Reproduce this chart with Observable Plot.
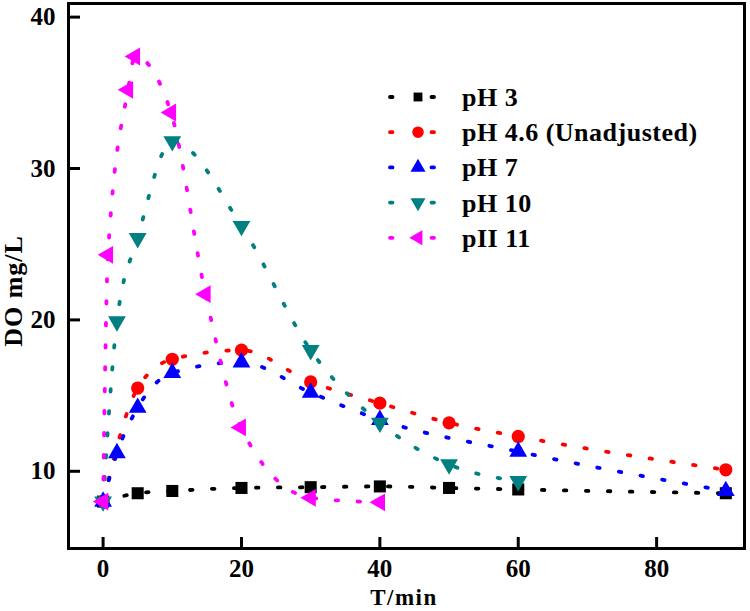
<!DOCTYPE html>
<html><head><meta charset="utf-8">
<script src="https://cdn.jsdelivr.net/npm/d3@7"></script>
<script src="https://cdn.jsdelivr.net/npm/@observablehq/plot@0.6"></script>
<style>body{margin:0;background:#fff} svg{display:block}</style>
</head><body><div id="chart"></div>
<script>
// ---- data ----
const seriesNames = ["pH 3", "pH 4.6 (Unadjusted)", "pH 7", "pH 10", "pII 11"];
const seriesColors = ["#000000", "#ff0000", "#0000ff", "#008080", "#ff00ff"];

const timesPH3 = [0, 5, 10, 20, 30, 40, 50, 60, 90];
const doPH3    = [8.0, 8.55, 8.7, 8.9, 8.95, 9.0, 8.9, 8.8, 8.55];

const timesPH46 = [0, 5, 10, 20, 30, 40, 50, 60, 90];
const doPH46    = [8.0, 15.5, 17.4, 18.0, 15.9, 14.5, 13.2, 12.3, 10.1];

const timesPH7 = [0, 2, 5, 10, 20, 30, 40, 60, 90];
const doPH7    = [8.0, 11.2, 14.2, 16.5, 17.2, 15.2, 13.4, 11.3, 8.7];

const timesPH10 = [0, 2, 5, 10, 20, 30, 40, 50, 60];
const doPH10    = [8.0, 19.9, 25.4, 31.8, 26.2, 18.0, 13.2, 10.45, 9.35];

const timesPH11 = [0, 0.7, 3.6, 4.6, 9.8, 14.8, 19.9, 30, 40];
const doPH11    = [8.0, 24.3, 35.2, 37.4, 33.7, 21.7, 12.9, 8.25, 7.95];

const xTicks = [0, 20, 40, 60, 80];
const yTicks = [10, 20, 30, 40];
const xLabel = "T/min";
const yLabel = "DO mg/L";

// ---- symbols ----
const sq3 = Math.sqrt(3);
const triDown = {draw(c, size) { const h = Math.sqrt(size / (sq3 * 3)); c.moveTo(0, 2*h); c.lineTo(sq3*h, -h); c.lineTo(-sq3*h, -h); c.closePath(); }};
const triLeft = {draw(c, size) { const h = Math.sqrt(size / (sq3 * 3)); c.moveTo(-2*h, 0); c.lineTo(h, -sq3*h); c.lineTo(h, sq3*h); c.closePath(); }};
const seriesSymbols = [d3.symbolSquare, d3.symbolCircle, d3.symbolTriangle, triDown, triLeft];
const seriesR = [6.8, 6.6, 6.6, 6.6, 6.6];

const seriesTimes = [timesPH3, timesPH46, timesPH7, timesPH10, timesPH11];
const seriesValues = [doPH3, doPH46, doPH7, doPH10, doPH11];

const FONT = "'Liberation Serif', 'Times New Roman', serif";

const marks = [];
seriesNames.forEach((name, s) => {
  const rows = seriesTimes[s].map((t, i) => ({t, v: seriesValues[s][i]}));
  marks.push(Plot.line(rows, {x: "t", y: "v", stroke: seriesColors[s], strokeWidth: 3.8,
    strokeDasharray: "2.5,19.5", strokeLinecap: "round", curve: "monotone-x"}));
  marks.push(Plot.dot(rows, {x: "t", y: "v", r: seriesR[s], symbol: seriesSymbols[s],
    fill: seriesColors[s], stroke: "none"}));
});

const plot = Plot.plot({
  width: 750, height: 611,
  marginLeft: 68, marginRight: 6, marginTop: 3, marginBottom: 63,
  style: {fontFamily: FONT, fontSize: "25px", fontWeight: "bold", background: "#fff", color: "#000"},
  x: {domain: [-5, 92.7]},
  y: {domain: [4.9, 40.9]},
  marks: [
    ...marks,
    Plot.frame({stroke: "#000", strokeWidth: 3}),
    Plot.axisX({ticks: xTicks, tickSize: -11, tickPadding: 22, strokeWidth: 3, label: null,
      fontSize: 25, fontWeight: "bold", fill: "#000"}),
    Plot.axisY({ticks: yTicks, tickSize: -12, tickPadding: 25, strokeWidth: 3, label: null,
      fontSize: 25, fontWeight: "bold", fill: "#000"})
  ]
});

document.getElementById("chart").appendChild(plot);
const svg = d3.select(plot);

// axis titles
svg.append("text").attr("x", 404).attr("y", 605).attr("text-anchor", "middle")
  .attr("font-family", FONT).attr("font-size", 23).attr("font-weight", "bold")
  .attr("letter-spacing", 1.5).attr("fill", "#000").text(xLabel);
svg.append("text").attr("transform", "translate(22,291) rotate(-90)").attr("text-anchor", "middle")
  .attr("font-family", FONT).attr("font-size", 26).attr("font-weight", "bold")
  .attr("letter-spacing", 1).attr("fill", "#000").text(yLabel);

// legend
const legendR = [5, 5.8, 5.6, 5.6, 5.6];
const leg = svg.append("g");
seriesNames.forEach((name, s) => {
  const cy = 97 + s * 35.2;
  leg.append("line").attr("x1", 390).attr("x2", 435).attr("y1", cy).attr("y2", cy)
    .attr("stroke", seriesColors[s]).attr("stroke-width", 3.8)
    .attr("stroke-dasharray", "2.5,39").attr("stroke-linecap", "round");
  leg.append("path").attr("transform", `translate(418,${cy})`)
    .attr("d", d3.symbol(seriesSymbols[s], Math.PI * legendR[s] * legendR[s])())
    .attr("fill", seriesColors[s]);
  leg.append("text").attr("x", 462).attr("y", cy + 9).attr("text-anchor", "start")
    .attr("font-family", FONT).attr("font-size", 26).attr("font-weight", "bold")
    .attr("letter-spacing", 0.5).attr("fill", "#000").text(name);
});
</script>
</body></html>
